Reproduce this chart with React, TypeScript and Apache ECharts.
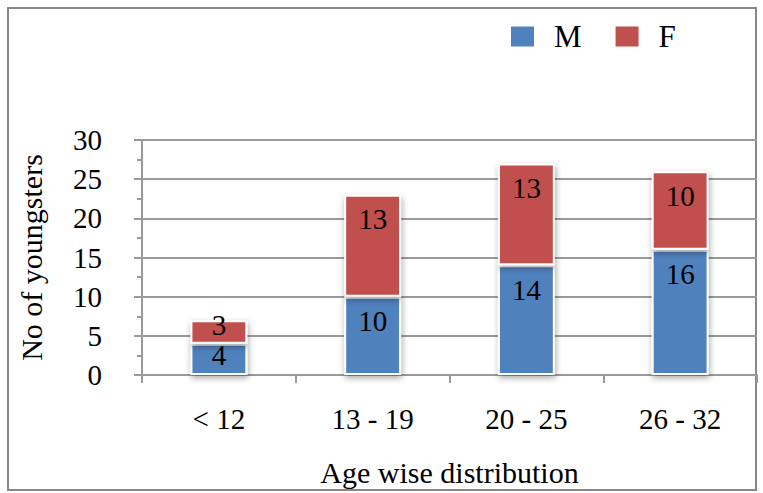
import React, { useEffect, useRef } from "react";
import * as echarts from "echarts";

const categories = ["< 12", "13 - 19", "20 - 25", "26 - 32"];
const maleValues = [4, 10, 14, 16];
const femaleValues = [3, 13, 13, 10];
const seriesNames = ["M", "F"];

export default function App() {
  const ref = useRef<HTMLDivElement>(null);
  useEffect(() => {
    if (!ref.current) return;
    const chart = echarts.init(ref.current, null, { renderer: "svg" });
    const font = "'Liberation Serif', 'Times New Roman', serif";
    const gridColor = "#9a9a9a";
    const barStyle = (color: string) => ({
      color,
      borderColor: "#ffffff",
      borderWidth: 2,
      shadowBlur: 6,
      shadowColor: "rgba(0,0,0,0.35)",
      shadowOffsetX: 1,
      shadowOffsetY: 3,
    });
    const label = {
      show: true,
      position: "insideTop",
      distance: 10,
      color: "#000",
      fontFamily: font,
      fontSize: 29,
    };
    // short segments: centre the label (as in the reference)
    const toItems = (vals: number[], dy: number) =>
      vals.map((v) =>
        v < 5 ? { value: v, label: { position: "inside", offset: [0, dy] } } : v
      );
    chart.setOption({
      animation: false,
      textStyle: { fontFamily: font },
      graphic: [
        {
          type: "rect",
          shape: { x: 8, y: 8, width: 748, height: 482 },
          style: { fill: "none", stroke: "#888", lineWidth: 2 },
          silent: true,
        },
      ],
      legend: {
        left: 504,
        top: 16,
        itemWidth: 25,
        itemHeight: 22,
        itemGap: 32,
        icon: "rect",
        data: seriesNames,
        textStyle: {
          fontFamily: font,
          fontSize: 31,
          color: "#000",
          padding: [0, 0, 0, 14],
        },
      },
      grid: {
        left: 142,
        right: 6,
        top: 140,
        bottom: 118,
        containLabel: false,
        outerBoundsMode: "none",
      },
      xAxis: {
        type: "category",
        data: categories,
        name: "Age wise distribution",
        nameLocation: "middle",
        nameGap: 82,
        nameTextStyle: { fontFamily: font, fontSize: 30, color: "#000" },
        axisLine: { lineStyle: { color: gridColor, width: 2 } },
        axisTick: { show: true, length: 8, lineStyle: { color: gridColor, width: 2 } },
        axisLabel: { fontFamily: font, fontSize: 29, color: "#000", margin: 29 },
      },
      yAxis: {
        type: "value",
        min: 0,
        max: 30,
        interval: 5,
        name: "No of youngsters",
        nameLocation: "middle",
        nameGap: 96,
        nameTextStyle: { fontFamily: font, fontSize: 30, color: "#000" },
        axisLine: { show: true, lineStyle: { color: gridColor, width: 2 } },
        axisTick: { show: true, length: 8, lineStyle: { color: gridColor, width: 2 } },
        minorTick: { show: true, splitNumber: 2, length: 5, lineStyle: { color: gridColor, width: 2 } },
        splitLine: { show: true, lineStyle: { color: gridColor, width: 2 } },
        axisLabel: { fontFamily: font, fontSize: 29, color: "#000", margin: 40 },
      },
      series: [
        {
          name: seriesNames[0],
          type: "bar",
          stack: "total",
          data: toItems(maleValues, -4),
          barWidth: "37%",
          itemStyle: barStyle("#4F81BD"),
          label,
        },
        {
          name: seriesNames[1],
          type: "bar",
          stack: "total",
          data: toItems(femaleValues, -7),
          barWidth: "37%",
          itemStyle: barStyle("#C0504D"),
          label,
        },
      ],
    });
    return () => chart.dispose();
  }, []);
  return (
    <div
      ref={ref}
      style={{ position: "fixed", left: 0, top: 0, width: 763, height: 493, background: "#fff" }}
    />
  );
}
